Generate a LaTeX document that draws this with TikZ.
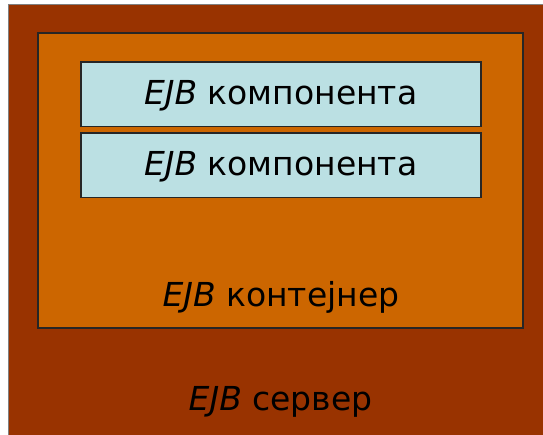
\documentclass[tikz,border=0pt]{standalone}
\usepackage{fontspec}
\setmainfont{DejaVu Sans}
\definecolor{serverbrown}{HTML}{993300}
\definecolor{containerorange}{HTML}{CC6600}
\definecolor{componentblue}{HTML}{BBE0E3}
\tikzset{
  compbox/.style={draw=black!85, line width=1.6pt, fill=componentblue,
    minimum width=400pt, minimum height=64.4pt, inner sep=0pt,
    text height=21pt, text depth=0pt,
    font=\fontsize{33}{40}\selectfont},
  boxlabel/.style={anchor=base, inner sep=0pt, font=\fontsize{33}{40}\selectfont}
}
\begin{document}
\begin{tikzpicture}[x=1pt,y=-1pt]
  \useasboundingbox (0,0) rectangle (543,435);
  \fill[white] (0,0) rectangle (543,435);
  % server
  \draw[fill=serverbrown, draw=gray, line width=1pt] (8.5,4.5) rectangle (560,450);
  \node[boxlabel] (serverlabel) at (280.6,410) {\textit{EJB} сервер};
  % container
  \draw[fill=containerorange, draw=black!85, line width=1.6pt] (38,33) rectangle (523,328);
  \node[boxlabel] (containerlabel) at (281,306.7) {\textit{EJB} контејнер};
  % components
  \node[compbox] (comp1) at (280.7,94.5) {\textit{EJB} компонента};
  \node[compbox] (comp2) at (280.7,165.5) {\textit{EJB} компонента};
\end{tikzpicture}
\end{document}
